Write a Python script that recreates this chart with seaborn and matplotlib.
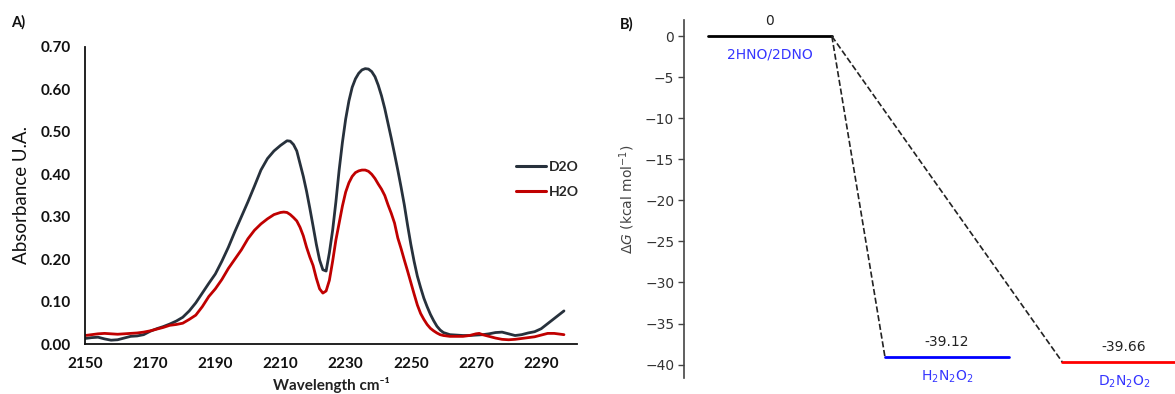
import numpy as np
import pandas as pd
import matplotlib
matplotlib.use("Agg")
import matplotlib.pyplot as plt
import seaborn as sns

# ---------------- data: panel A (IR spectra) ----------------
wavenumber_d2o = [2150, 2152, 2154, 2156, 2158, 2160, 2162, 2164, 2166, 2168, 2170, 2172, 2174, 2176,
                  2178, 2180, 2182, 2184, 2186, 2188, 2190, 2192, 2194, 2196, 2198, 2200, 2202, 2204,
                  2206, 2208, 2210, 2212, 2213, 2214, 2215, 2216, 2217, 2218, 2219, 2220, 2221, 2222,
                  2223, 2224, 2225, 2226, 2227, 2228, 2229, 2230, 2231, 2232, 2233, 2234, 2235, 2236,
                  2237, 2238, 2239, 2240, 2241, 2242, 2243, 2244, 2245, 2246, 2247, 2248, 2249, 2250,
                  2251, 2252, 2253, 2254, 2255, 2256, 2257, 2258, 2259, 2260, 2262, 2264, 2266, 2268,
                  2270, 2272, 2274, 2276, 2278, 2280, 2282, 2284, 2286, 2288, 2290, 2292, 2294, 2296, 2297]
absorb_d2o = [0.013, 0.015, 0.016, 0.012, 0.009, 0.010, 0.014, 0.018, 0.019, 0.022, 0.030, 0.036, 0.041, 0.047,
              0.054, 0.063, 0.078, 0.097, 0.120, 0.143, 0.165, 0.195, 0.228, 0.265, 0.300, 0.335, 0.372, 0.410,
              0.437, 0.455, 0.468, 0.479, 0.478, 0.470, 0.455, 0.425, 0.395, 0.360, 0.320, 0.278, 0.235, 0.198,
              0.175, 0.172, 0.215, 0.268, 0.335, 0.410, 0.475, 0.530, 0.573, 0.605, 0.625, 0.638, 0.646, 0.649,
              0.648, 0.642, 0.630, 0.610, 0.585, 0.555, 0.520, 0.485, 0.448, 0.410, 0.370, 0.328, 0.280, 0.235,
              0.195, 0.160, 0.133, 0.108, 0.088, 0.070, 0.055, 0.042, 0.033, 0.027, 0.022, 0.021, 0.020, 0.020,
              0.021, 0.022, 0.024, 0.027, 0.028, 0.024, 0.020, 0.022, 0.026, 0.029, 0.036, 0.048, 0.060, 0.072, 0.078]

wavenumber_h2o = [2150, 2152, 2154, 2156, 2158, 2160, 2162, 2164, 2166, 2168, 2170, 2172, 2174, 2176,
                  2178, 2180, 2182, 2184, 2186, 2188, 2190, 2192, 2194, 2196, 2198, 2200, 2202, 2204,
                  2206, 2208, 2210, 2211, 2212, 2213, 2214, 2215, 2216, 2217, 2218, 2219, 2220, 2221,
                  2222, 2223, 2224, 2225, 2226, 2227, 2228, 2229, 2230, 2231, 2232, 2233, 2234, 2235,
                  2236, 2237, 2238, 2239, 2240, 2241, 2242, 2243, 2244, 2245, 2246, 2247, 2248, 2249,
                  2250, 2251, 2252, 2253, 2254, 2255, 2256, 2257, 2258, 2259, 2260, 2262, 2264, 2266,
                  2268, 2270, 2271, 2272, 2274, 2276, 2278, 2280, 2282, 2284, 2286, 2288, 2290, 2292,
                  2294, 2296, 2297]
absorb_h2o = [0.020, 0.022, 0.024, 0.025, 0.024, 0.023, 0.024, 0.025, 0.026, 0.028, 0.031, 0.035, 0.039, 0.044,
              0.046, 0.049, 0.058, 0.068, 0.088, 0.112, 0.130, 0.152, 0.178, 0.200, 0.222, 0.248, 0.268, 0.283,
              0.295, 0.305, 0.310, 0.311, 0.310, 0.305, 0.298, 0.290, 0.275, 0.255, 0.228, 0.205, 0.185, 0.155,
              0.130, 0.120, 0.125, 0.150, 0.195, 0.245, 0.285, 0.325, 0.358, 0.380, 0.395, 0.404, 0.408, 0.410,
              0.410, 0.407, 0.400, 0.390, 0.377, 0.365, 0.350, 0.328, 0.308, 0.285, 0.250, 0.225, 0.198, 0.172,
              0.145, 0.118, 0.092, 0.072, 0.058, 0.046, 0.037, 0.031, 0.026, 0.022, 0.020, 0.018, 0.018, 0.018,
              0.020, 0.024, 0.025, 0.022, 0.018, 0.014, 0.011, 0.010, 0.011, 0.013, 0.015, 0.017, 0.021, 0.025,
              0.025, 0.023, 0.022]

series_names = ["D2O", "H2O"]
x_ticks_a = [2150, 2170, 2190, 2210, 2230, 2250, 2270, 2290]
y_ticks_a = [0.00, 0.10, 0.20, 0.30, 0.40, 0.50, 0.60, 0.70]

# ---------------- data: panel B (energy diagram) ----------------
species = ["2HNO/2DNO", r"H$_2$N$_2$O$_2$", r"D$_2$N$_2$O$_2$"]
energies = [0.0, -39.12, -39.66]
energy_labels = ["0", "-39.12", "-39.66"]
connections = [(0, 1), (0, 2)]
y_ticks_b = [0, -5, -10, -15, -20, -25, -30, -35, -40]

# ---------------- style ----------------
sns.set_theme(style="white")
plt.rcParams["font.family"] = ["DejaVu Sans"]
plt.rcParams["mathtext.fontset"] = "dejavusans"

fig = plt.figure(figsize=(11.75, 3.94), dpi=100)

# ================= Panel A =================
axA = fig.add_axes([85 / 1175, 1 - 344 / 394, (577 - 85) / 1175, (344 - 47) / 394])
dfA = pd.concat([
    pd.DataFrame({"w": wavenumber_d2o, "A": absorb_d2o, "s": series_names[0]}),
    pd.DataFrame({"w": wavenumber_h2o, "A": absorb_h2o, "s": series_names[1]}),
])
palA = {"D2O": "#27313c", "H2O": "#c00000"}
sns.lineplot(data=dfA, x="w", y="A", hue="s", palette=palA, sort=False, lw=2.0,
             ax=axA, legend=False, estimator=None)
axA.set_xlim(2150, 2301)
axA.set_ylim(0, 0.70)
axA.set_xticks(x_ticks_a)
axA.set_yticks(y_ticks_a)
fA = ["Lato", "DejaVu Sans"]
axA.set_xticklabels([str(t) for t in x_ticks_a], fontfamily=fA, fontweight="bold", fontsize=11)
axA.set_yticklabels([f"{t:.2f}" for t in y_ticks_a], fontfamily=fA, fontweight="bold", fontsize=11)
axA.tick_params(axis="x", length=0, pad=9, colors="#111111")
axA.tick_params(axis="y", length=0, pad=10, colors="#111111")
for sp in ["top", "right"]:
    axA.spines[sp].set_visible(False)
for sp in ["left", "bottom"]:
    axA.spines[sp].set_color("#111111")
    axA.spines[sp].set_linewidth(1.3)
axA.set_xlabel("Wavelength cm⁻¹", fontfamily=fA, fontweight="bold", fontsize=11, labelpad=5, color="#222222")
axA.set_ylabel("Absorbance U.A.", fontfamily=fA, fontsize=13.5, labelpad=8, color="#111111")
axA.grid(False)

from matplotlib.lines import Line2D
handles = [Line2D([], [], color=palA[s], lw=2.2) for s in series_names]
leg = fig.legend(handles, series_names, loc="center left", bbox_to_anchor=(503 / 1175, 1 - 179.5 / 394),
                 frameon=False, prop={"family": fA, "weight": "bold", "size": 10},
                 handlelength=2.2, handletextpad=0.2, labelspacing=0.95)

fig.text(18 / 1175, 1 - 22 / 394, "A)", fontfamily=fA, fontweight="bold", fontsize=10.5,
         ha="center", va="center", color="#111111")

# ================= Panel B =================
axB = fig.add_axes([684 / 1175, 1 - 378 / 394, (1210 - 684) / 1175, (378 - 20) / 394])
level_width = 0.7
level_colors = ["black", "#0000ff", "#ff0000"]
name_color = "#3535ff"
for i, (e, c) in enumerate(zip(energies, level_colors)):
    dfL = pd.DataFrame({"x": [i, i + level_width], "y": [e, e]})
    sns.lineplot(data=dfL, x="x", y="y", color=c, lw=2.0, ax=axB, sort=False, estimator=None)
    cx = i + level_width / 2
    axB.text(cx, e + 1.0, energy_labels[i], ha="center", va="bottom", fontsize=10, color="#222222")
    axB.text(cx, e - 1.4, species[i], ha="center", va="top", fontsize=10, color=name_color)
for a, b in connections:
    dfC = pd.DataFrame({"x": [a + level_width, b], "y": [energies[a], energies[b]]})
    sns.lineplot(data=dfC, x="x", y="y", color="#222222", lw=1.2, ls="--", ax=axB,
                 sort=False, estimator=None)

axB.set_xlim(-0.135, 2.835)
axB.set_ylim(-41.64, 1.98)
axB.set_yticks(y_ticks_b)
axB.set_yticklabels([f"{t}".replace("-", "\u2212") for t in y_ticks_b], fontsize=10, color="#333333")
axB.tick_params(axis="y", length=4, width=1, color="#444444", pad=3, left=True)
axB.set_xticks([])
axB.set_xlabel("")
axB.set_ylabel(r"$\Delta G$ (kcal mol$^{-1}$)", fontsize=10, color="#444444", labelpad=6)
for sp in ["top", "right", "bottom"]:
    axB.spines[sp].set_visible(False)
axB.spines["left"].set_color("#444444")
axB.spines["left"].set_linewidth(1.2)
axB.grid(False)

fig.text(627 / 1175, 1 - 24 / 394, "B)", fontfamily=fA, fontweight="bold", fontsize=10.5,
         ha="center", va="center", color="#111111")

fig.savefig("out.png", dpi=100)
